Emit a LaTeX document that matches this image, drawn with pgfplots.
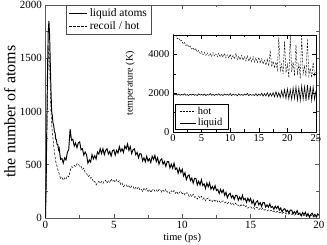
\documentclass[border=0pt]{standalone}
\usepackage{fontspec}
\setmainfont{Liberation Serif}
\usepackage{pgfplots}
\pgfplotsset{compat=1.18}
\begin{document}
\begin{tikzpicture}
\useasboundingbox (-45.5pt,-27pt) rectangle (281.5pt,218pt);
\begin{axis}[
  at={(0pt,0pt)}, anchor=south west,
  scale only axis, width=273.5pt, height=213pt,
  xmin=0, xmax=20, ymin=0, ymax=2000,
  xtick={0,5,...,20}, ytick={0,500,...,2000},
  minor x tick num=1, minor y tick num=1,
  tick align=inside,
  major tick length=4pt, minor tick length=2.5pt,
  axis line style={black!65, line width=0.7pt},
  every tick/.style={black!65, line width=0.6pt},
  /pgf/number format/assume math mode=true,
  /pgf/number format/1000 sep={},
  tick label style={font=\fontsize{11}{12}\selectfont},
  xlabel={time (ps)},
  ylabel={the number of atoms},
  xlabel style={font=\fontsize{10.5}{12}\selectfont, at={(axis description cs:0.5,-0.094)}, anchor=center},
  ylabel style={font=\fontsize{16}{18}\selectfont, at={(axis description cs:-0.13,0.5)}, anchor=center},
  legend style={at={(axis description cs:0.075,1)}, anchor=north west,
     draw=black!70, line width=0.6pt, font=\fontsize{11.5}{13}\selectfont,
     inner xsep=2.5pt, inner ysep=1.5pt, row sep=-1pt, fill=white,
     /tikz/every even column/.append style={column sep=5pt}},
  legend cell align=left,
  legend image code/.code={\draw[#1] (0pt,0pt) -- (18pt,0pt);},
]
\addplot[black, line width=0.95pt] coordinates {
(0,0)(0.05,350)(0.1,900)(0.15,1400)(0.2,1750)(0.25,1850)(0.3,1720)(0.35,1450)(0.4,1200)(0.45,1000)
(0.5,960)(0.55,890)(0.6,870)(0.65,810)(0.7,800)(0.75,740)(0.8,735)(0.85,690)(0.9,690)(0.95,640)
(1.0,655)(1.1,550)(1.2,560)(1.3,515)(1.4,565)(1.5,545)(1.6,615)(1.7,645)(1.8,835)(1.9,730)
(2.0,740)(2.1,675)(2.2,705)(2.3,660)(2.4,705)(2.5,715)(2.6,640)(2.7,650)(2.8,590)(2.9,620)
(3.0,595)(3.1,515)(3.2,545)(3.3,525)(3.4,595)(3.5,555)(3.6,585)(3.7,555)(3.8,620)(3.9,600)
(4.0,650)(4.1,605)(4.2,650)(4.3,595)(4.4,635)(4.5,650)(4.6,600)(4.7,625)(4.8,582)(4.9,632)
(5.0,640)(5.1,590)(5.2,635)(5.3,610)(5.4,670)(5.5,625)(5.6,650)(5.7,615)(5.8,675)(5.9,650)
(6.0,695)(6.1,635)(6.2,670)(6.3,605)(6.4,640)(6.5,650)(6.6,595)(6.7,615)(6.8,565)(6.9,605)
(7.0,600)(7.1,535)(7.2,565)(7.3,528)(7.4,580)(7.5,533)(7.6,557)(7.7,521)(7.8,580)(7.9,550)
(8.0,588)(8.1,530)(8.2,565)(8.3,505)(8.4,543)(8.5,555)(8.6,505)(8.7,530)(8.8,485)(8.9,530)
(9.0,530)(9.1,470)(9.2,505)(9.3,468)(9.4,515)(9.5,457)(9.6,469)(9.7,420)(9.8,466)(9.9,427)
(10.0,458)(10.1,395)(10.2,425)(10.3,360)(10.4,395)(10.5,405)(10.6,352)(10.7,375)(10.8,328)(10.9,372)
(11.0,371)(11.1,310)(11.2,345)(11.3,310)(11.4,360)(11.5,305)(11.6,321)(11.7,277)(11.8,328)(11.9,294)
(12.0,330)(12.1,270)(12.2,296)(12.3,266)(12.4,304)(12.5,258)(12.6,268)(12.7,230)(12.8,268)(12.9,238)
(13.0,264)(13.1,214)(13.2,240)(13.3,190)(13.4,221)(13.5,232)(13.6,191)(13.7,211)(13.8,175)(13.9,212)
(14.0,213)(14.1,167)(14.2,197)(14.3,171)(14.4,213)(14.5,171)(14.6,184)(14.7,147)(14.8,186)(14.9,157)
(15.0,184)(15.1,136)(15.2,164)(15.3,116)(15.4,149)(15.5,162)(15.6,124)(15.7,144)(15.8,108)(15.9,144)
(16.0,144)(16.1,102)(16.2,123)(16.3,102)(16.4,132)(16.5,99)(16.6,108)(16.7,81)(16.8,111)(16.9,90)
(17.0,111)(17.1,74)(17.2,94)(17.3,57)(17.4,80)(17.5,88)(17.6,58)(17.7,73)(17.8,46)(17.9,74)
(18.0,75)(18.1,39)(18.2,60)(18.3,39)(18.4,69)(18.5,36)(18.6,46)(18.7,20)(18.8,51)(18.9,31)
(19.0,53)(19.1,19)(19.2,42)(19.3,8)(19.4,34)(19.5,45)(19.6,17)(19.7,34)(19.8,9)(19.9,38)(20.0,25)
};
\addlegendentry{liquid atoms}
\addplot[black, line width=0.5pt, dash pattern=on 2.5pt off 1.5pt] coordinates {
(0,0)(0.05,300)(0.1,800)(0.15,1200)(0.2,1500)(0.25,1620)(0.3,1450)(0.35,1200)(0.4,1000)(0.45,880)
(0.5,800)(0.55,740)(0.6,680)(0.65,620)(0.7,575)(0.75,530)(0.8,505)(0.85,480)(0.9,455)(0.95,432)
(1.0,417)(1.1,372)(1.2,380)(1.3,355)(1.4,377)(1.5,363)(1.6,398)(1.7,385)(1.8,442)(1.9,482)
(2.0,475)(2.1,495)(2.2,480)(2.3,508)(2.4,512)(2.5,480)(2.6,485)(2.7,455)(2.8,468)(2.9,427)
(3.0,422)(3.1,387)(3.2,400)(3.3,373)(3.4,380)(3.5,338)(3.6,343)(3.7,310)(3.8,332)(3.9,344)
(4.0,325)(4.1,342)(4.2,324)(4.3,350)(4.4,353)(4.5,327)(4.6,349)(4.7,336)(4.8,366)(4.9,342)
(5.0,354)(5.1,336)(5.2,360)(5.3,338)(5.4,350)(5.5,315)(5.6,328)(5.7,294)(5.8,310)(5.9,315)
(6.0,290)(6.1,302)(6.2,279)(6.3,301)(6.4,300)(6.5,270)(6.6,287)(6.7,269)(6.8,294)(6.9,265)
(7.0,272)(7.1,250)(7.2,276)(7.3,259)(7.4,277)(7.5,249)(7.6,268)(7.7,240)(7.8,262)(7.9,272)
(8.0,250)(8.1,265)(8.2,245)(8.3,269)(8.4,270)(8.5,242)(8.6,261)(8.7,244)(8.8,270)(8.9,242)
(9.0,250)(9.1,229)(9.2,256)(9.3,240)(9.4,259)(9.5,231)(9.6,250)(9.7,221)(9.8,242)(9.9,251)
(10.0,228)(10.1,239)(10.2,215)(10.3,236)(10.4,234)(10.5,203)(10.6,219)(10.7,200)(10.8,224)(10.9,194)
(11.0,200)(11.1,178)(11.2,204)(11.3,187)(11.4,205)(11.5,176)(11.6,193)(11.7,162)(11.8,181)(11.9,188)
(12.0,163)(12.1,171)(12.2,154)(12.3,172)(12.4,158)(12.5,171)(12.6,150)(12.7,162)(12.8,141)(12.9,155)
(13.0,161)(13.1,143)(13.2,151)(13.3,133)(13.4,148)(13.5,146)(13.6,124)(13.7,136)(13.8,122)(13.9,139)
(14.0,117)(14.1,122)(14.2,106)(14.3,124)(14.4,111)(14.5,124)(14.6,103)(14.7,115)(14.8,92)(14.9,104)
(15.0,108)(15.1,91)(15.2,100)(15.3,83)(15.4,99)(15.5,98)(15.6,78)(15.7,91)(15.8,78)(15.9,95)
(16.0,74)(16.1,78)(16.2,65)(16.3,76)(16.4,65)(16.5,74)(16.6,58)(16.7,66)(16.8,50)(16.9,59)
(17.0,62)(17.1,49)(17.2,55)(17.3,42)(17.4,53)(17.5,52)(17.6,36)(17.7,45)(17.8,35)(17.9,48)
(18.0,34)(18.1,38)(18.2,26)(18.3,38)(18.4,28)(18.5,37)(18.6,22)(18.7,30)(18.8,15)(18.9,24)
(19.0,28)(19.1,16)(19.2,23)(19.3,11)(19.4,23)(19.5,23)(19.6,8)(19.7,18)(19.8,9)(19.9,21)(20.0,10)
};
\addlegendentry{recoil / hot}
\end{axis}
\begin{axis}[
  at={(127.5pt,86pt)}, anchor=south west,
  scale only axis, width=143pt, height=97pt,
  xmin=0, xmax=25, ymin=0, ymax=5000,
  xtick={0,5,...,25}, ytick={0,2000,4000},
  minor x tick num=1, minor y tick num=1,
  tick align=inside,
  major tick length=4pt, minor tick length=2.5pt,
  axis line style={black, line width=0.6pt},
  every tick/.style={black, line width=0.5pt},
  axis background/.style={fill=white},
  /pgf/number format/assume math mode=true,
  /pgf/number format/1000 sep={},
  tick label style={font=\fontsize{10.5}{12}\selectfont},
  xticklabel style={yshift=1pt},
  ylabel={temperature (K)},
  ylabel style={font=\fontsize{10}{12}\selectfont, at={(axis description cs:-0.30,0.5)}, anchor=center},
  legend style={at={(axis description cs:0.014,0.02)}, anchor=south west,
     draw=black, line width=0.6pt, font=\fontsize{10.5}{11.5}\selectfont,
     inner xsep=4pt, inner ysep=0.5pt, row sep=-1.5pt, fill=white,
     /tikz/every even column/.append style={column sep=10pt}},
  legend cell align=left,
  legend image code/.code={\draw[#1] (0pt,0pt) -- (16pt,0pt);},
]
\addplot[black, line width=0.4pt, dash pattern=on 2pt off 1.2pt] coordinates {
(0,5050)(0.25,4950)(0.5,4980)(0.75,4800)(1.0,4850)(1.25,4700)(1.5,4720)(1.75,4560)(2.0,4620)(2.25,4450)
(2.5,4520)(2.75,4380)(3.0,4420)(3.25,4280)(3.5,4350)(3.75,4200)(4.0,4300)(4.25,4120)(4.5,4200)(4.75,4050)
(5.0,4150)(5.25,3980)(5.5,4100)(5.75,3950)(6.0,4080)(6.25,3930)(6.5,4050)(6.75,3900)(7.0,4100)(7.25,3920)
(7.5,4030)(7.75,3880)(8.0,4060)(8.25,3870)(8.5,4000)(8.75,3850)(9.0,4050)(9.25,3820)(9.5,3980)(9.75,3800)
(10.0,4000)(10.25,3770)(10.5,3950)(10.75,3760)(11.0,4050)(11.25,3740)(11.5,3900)(11.75,3720)(12.0,3950)(12.25,3700)
(12.5,3880)(12.75,3660)(13.0,3920)(13.25,3650)(13.5,3850)(13.75,3620)(14.0,3900)(14.25,3600)(14.5,3820)(14.75,3580)
(15.0,3850)(15.25,3550)(15.5,3780)(15.75,3500)(16.0,3700)(16.25,3450)(16.5,3750)(16.75,3400)(17.0,4200)(17.25,3350)
(17.5,3650)(17.75,3300)(18.0,3600)(18.25,3200)(18.5,4900)(18.75,3150)(19.0,3500)(19.25,3000)(19.5,4700)(19.75,3050)
(20.0,3500)(20.25,2800)(20.5,5000)(20.75,3100)(21.0,3600)(21.25,2900)(21.5,4500)(21.75,2950)(22.0,3500)(22.25,2750)
(22.5,4950)(22.75,3000)(23.0,3400)(23.25,2850)(23.5,4800)(23.75,2900)(24.0,3300)(24.25,2800)(24.5,3600)(24.75,2900)(25.0,3100)
};
\addlegendentry{hot}
\addplot[black, line width=0.6pt] coordinates {
(0,1980)(0.25,1910)(0.5,1950)(0.75,1900)(1.0,1960)(1.25,1890)(1.5,1940)(1.75,1900)(2.0,1970)(2.25,1890)
(2.5,1930)(2.75,1880)(3.0,1950)(3.25,1900)(3.5,1960)(3.75,1890)(4.0,1930)(4.25,1880)(4.5,1970)(4.75,1900)
(5.0,1940)(5.25,1890)(5.5,1960)(5.75,1880)(6.0,1930)(6.25,1900)(6.5,1980)(6.75,1890)(7.0,1940)(7.25,1880)
(7.5,1950)(7.75,1900)(8.0,1970)(8.25,1890)(8.5,1930)(8.75,1880)(9.0,1960)(9.25,1900)(9.5,1940)(9.75,1890)
(10.0,1980)(10.25,1880)(10.5,1950)(10.75,1900)(11.0,1930)(11.25,1870)(11.5,1970)(11.75,1890)(12.0,1940)(12.25,1880)
(12.5,1960)(12.75,1900)(13.0,1990)(13.25,1870)(13.5,1950)(13.75,1890)(14.0,1930)(14.25,1880)(14.5,1980)(14.75,1860)
(15.0,1960)(15.25,1880)(15.5,2000)(15.75,1850)(16.0,1980)(16.25,1860)(16.5,2020)(16.75,1830)(17.0,1990)(17.25,1850)
(17.5,2030)(17.75,1820)(18.0,2080)(18.25,1810)(18.5,2030)(18.75,1780)(19.0,2130)(19.25,1790)(19.5,2180)(19.75,1730)
(20.0,2230)(20.25,1710)(20.5,2180)(20.75,1680)(21.0,2280)(21.25,1730)(21.5,2330)(21.75,1650)(22.0,2280)(22.25,1630)
(22.5,2380)(22.75,1680)(23.0,2330)(23.25,1610)(23.5,2430)(23.75,1650)(24.0,2380)(24.25,1630)(24.5,2330)(24.75,1680)(25.0,2130)
};
\addlegendentry{liquid}
\end{axis}
\end{tikzpicture}
\end{document}
